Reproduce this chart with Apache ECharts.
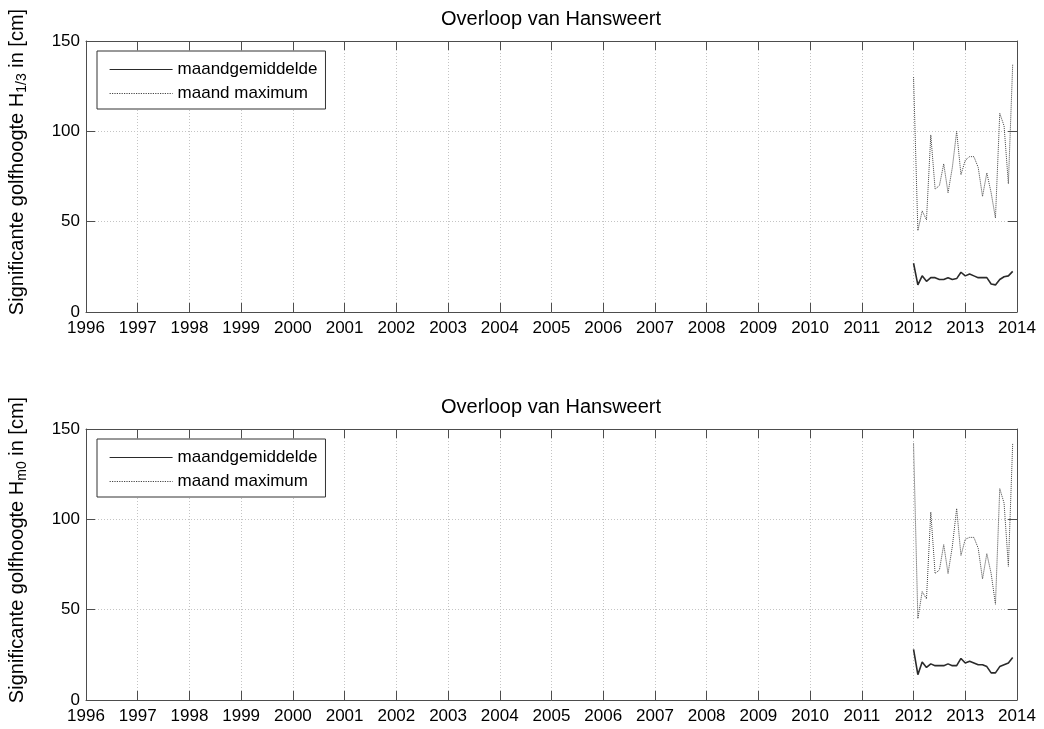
<!DOCTYPE html>
<html>
<head>
<meta charset="utf-8">
<script src="https://cdn.jsdelivr.net/npm/echarts@6/dist/echarts.min.js"></script>
<style>
  html, body { margin: 0; padding: 0; background: #fff; }
  #chart { width: 1044px; height: 729px; }
</style>
</head>
<body>
<div id="chart"></div>
<script>
// Monthly records, Jan 2012 .. Dec 2013
const months = [
  '2012-01','2012-02','2012-03','2012-04','2012-05','2012-06',
  '2012-07','2012-08','2012-09','2012-10','2012-11','2012-12',
  '2013-01','2013-02','2013-03','2013-04','2013-05','2013-06',
  '2013-07','2013-08','2013-09','2013-10','2013-11','2013-12'
];

// H1/3 [cm]
const h13Mean = [27, 15, 20, 17, 19, 19, 18, 18, 19, 18, 18.5, 22,
                 20, 21, 20, 19, 19, 19, 15.5, 15, 18, 19.5, 20, 22.5];
const h13Max  = [130, 45, 56, 51, 98, 68, 70, 82, 66, 80, 100, 76,
                 84, 86, 86, 80, 64, 77, 66, 52, 110, 103, 71, 137];

// Hm0 [cm]
const hm0Mean = [28, 14, 21, 18, 20, 19, 19, 19, 20, 19, 19, 23,
                 20.5, 21.5, 20.5, 19.5, 19.5, 18.5, 15, 15, 18.5, 19.5, 20.5, 23.5];
const hm0Max  = [142, 45, 60, 56, 104, 70, 72, 86, 70, 85, 106, 80,
                 89, 90, 90, 84, 67, 81, 70, 53, 117, 109, 74, 142];

const yearMin = 1996, yearMax = 2014;
const yTicks = [0, 50, 100, 150];
const chartTitle = 'Overloop van Hansweert';
const seriesNames = ['maandgemiddelde', 'maand maximum'];

// month string -> decimal year on the value axis
const toYear = s => { const [y, m] = s.split('-').map(Number); return y + (m - 1) / 12; };
const pairs = vals => months.map((mo, i) => [toYear(mo), vals[i]]);

const FONT = 'Liberation Sans, Arial, Helvetica, sans-serif';
const FRAME = '#4d4d4d';
const GRIDC = '#c4c4c4';

const grids = [
  { left: 86, top: 41, width: 931, height: 271 },
  { left: 86, top: 429, width: 931, height: 271 }
];

function xAxes(gi) {
  const base = {
    type: 'value', gridIndex: gi, min: yearMin, max: yearMax, interval: 1,
    axisLine: { show: true, onZero: false, lineStyle: { color: FRAME, width: 1 } },
    axisTick: { show: true, inside: true, length: 9, lineStyle: { color: FRAME } }
  };
  return [
    Object.assign({}, base, {
      position: 'bottom',
      axisLabel: { show: true, margin: 8, color: '#000', fontSize: 17, fontFamily: FONT,
                   formatter: v => String(Math.round(v)) },
      splitLine: { show: true, lineStyle: { color: GRIDC, type: [1, 2], width: 1 } }
    }),
    Object.assign({}, base, {
      position: 'top', axisLabel: { show: false }, splitLine: { show: false }
    })
  ];
}

function yAxes(gi) {
  const base = {
    type: 'value', gridIndex: gi, min: yTicks[0], max: yTicks[yTicks.length - 1],
    interval: yTicks[1] - yTicks[0],
    axisLine: { show: true, onZero: false, lineStyle: { color: FRAME, width: 1 } },
    axisTick: { show: true, inside: true, length: 9, lineStyle: { color: FRAME } }
  };
  return [
    Object.assign({}, base, {
      position: 'left',
      axisLabel: { show: true, margin: 6, color: '#000', fontSize: 17, fontFamily: FONT },
      splitLine: { show: true, lineStyle: { color: GRIDC, type: [1, 2], width: 1 } }
    }),
    Object.assign({}, base, {
      position: 'right', axisLabel: { show: false }, splitLine: { show: false }
    })
  ];
}

function lineSeries(name, vals, xi, yi, dotted) {
  return {
    type: 'line', name, data: pairs(vals), xAxisIndex: xi, yAxisIndex: yi,
    showSymbol: false, symbol: 'none', animation: false,
    lineStyle: dotted
      ? { color: '#444', width: 1, type: 'dotted' }
      : { color: '#2a2a2a', width: 1.6, type: 'solid' },
    itemStyle: { color: dotted ? '#444' : '#2a2a2a' },
    z: dotted ? 3 : 4
  };
}

function legendFor(top) {
  return {
    show: true,
    orient: 'vertical', left: 97, top: top,
    data: seriesNames,
    itemWidth: 63, itemHeight: 14, itemGap: 7,
    padding: [10, 8, 7, 12],
    borderColor: '#333', borderWidth: 1, backgroundColor: '#fff',
    itemStyle: { opacity: 0 },
    lineStyle: { width: 1.2 },
    textStyle: { color: '#000', fontSize: 17, fontFamily: FONT },
    selectedMode: false,
    z: 10
  };
}

function yLabel(sub, cx, cy) {
  return {
    type: 'text', x: cx, y: cy, rotation: Math.PI / 2,
    style: {
      text: '{m|Significante golfhoogte H}{s|' + sub + '}{m| in [cm]}',
      align: 'center', verticalAlign: 'middle',
      rich: {
        m: { fontSize: 20, fontFamily: FONT, fill: '#000', lineHeight: 25, verticalAlign: 'middle' },
        s: { fontSize: 14, fontFamily: FONT, fill: '#000', lineHeight: 25, verticalAlign: 'bottom' }
      }
    }
  };
}

const chart = echarts.init(document.getElementById('chart'), null, { renderer: 'canvas' });
chart.setOption({
  animation: false,
  backgroundColor: '#fff',
  title: [
    { text: chartTitle, left: 551, top: 9, textAlign: 'center', padding: 0,
      textStyle: { fontSize: 20, fontWeight: 'normal', color: '#000', fontFamily: FONT } },
    { text: chartTitle, left: 551, top: 397, textAlign: 'center', padding: 0,
      textStyle: { fontSize: 20, fontWeight: 'normal', color: '#000', fontFamily: FONT } }
  ],
  legend: [legendFor(51), legendFor(439)],
  grid: grids,
  xAxis: [...xAxes(0), ...xAxes(1)],
  yAxis: [...yAxes(0), ...yAxes(1)],
  series: [
    lineSeries(seriesNames[0], h13Mean, 0, 0, false),
    lineSeries(seriesNames[1], h13Max, 0, 0, true),
    lineSeries(seriesNames[0], hm0Mean, 2, 2, false),
    lineSeries(seriesNames[1], hm0Max, 2, 2, true)
  ],
  graphic: [
    yLabel('1/3', 17, 162),
    yLabel('m0', 17, 550)
  ]
});
</script>
</body>
</html>
